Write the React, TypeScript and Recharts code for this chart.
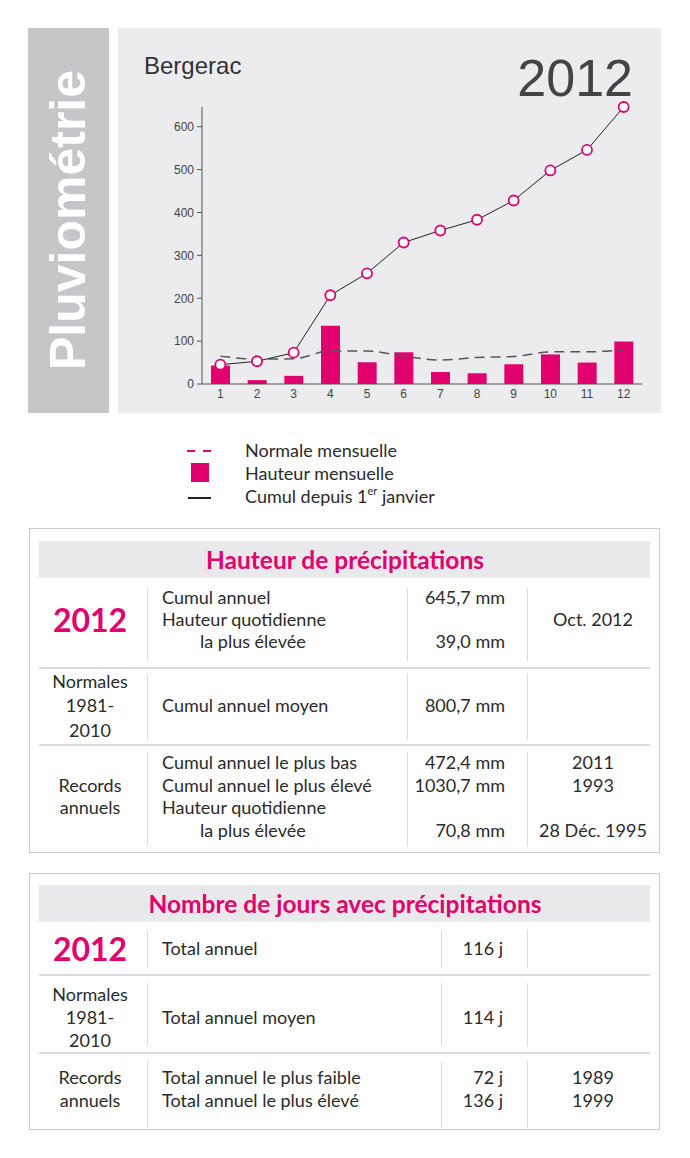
import * as React from "react";
import {
  ComposedChart,
  Bar,
  Line,
  XAxis,
  YAxis,
} from "recharts";

// monthly data, Bergerac 2012
const months = ["1", "2", "3", "4", "5", "6", "7", "8", "9", "10", "11", "12"];
const hauteurMensuelle = [43, 9, 19, 136, 51, 74, 28, 25, 46, 69, 50, 99];
const normaleMensuelle = [65, 58, 59, 77, 77, 65, 56, 62, 64, 75, 75, 80];
const cumulAnnuel = [45, 53, 73, 207, 258, 330, 358, 383, 428, 498, 546, 646];
const yTicks = [0, 100, 200, 300, 400, 500, 600];

const PINK = "#e2006e";
const TXT = "#2b2b2b";
const FONT = "Lato, 'Open Sans', sans-serif";
const HELV = "'Liberation Sans', Arial, sans-serif";

const chartData = months.map((m, i) => ({
  month: m,
  hauteur: hauteurMensuelle[i],
  normale: normaleMensuelle[i],
  cumul: cumulAnnuel[i],
}));

type TProps = {
  x: number;
  y: number;
  align?: "left" | "right" | "center";
  size?: number;
  bold?: boolean;
  color?: string;
  children: React.ReactNode;
};

// text placed by its vertical centre; x is left edge, right edge or centre
function T({ x, y, align = "left", size = 18, bold, color = TXT, children }: TProps) {
  const style: React.CSSProperties = {
    position: "absolute",
    top: y - size,
    height: size * 2,
    lineHeight: `${size * 2}px`,
    fontSize: size,
    fontWeight: bold ? 700 : 400,
    color,
    whiteSpace: "nowrap",
    fontFamily: FONT,
  };
  if (align === "left") style.left = x;
  if (align === "right") style.right = 690 - x;
  if (align === "center") {
    style.left = x - 250;
    style.width = 500;
    style.textAlign = "center";
  }
  return <div style={style}>{children}</div>;
}

function Rect({ x, y, w, h, bg }: { x: number; y: number; w: number; h: number; bg: string }) {
  return <div style={{ position: "absolute", left: x, top: y, width: w, height: h, background: bg }} />;
}

const SEP = "#dcdcdc";

function Table1() {
  return (
    <>
      <div style={{ position: "absolute", left: 29, top: 528, width: 629, height: 323, border: "1px solid #c9c9c9" }} />
      <Rect x={39} y={541} w={611} h={37} bg="#e9e9eb" />
      <T x={345} y={559} align="center" size={24.5} bold color={PINK}>Hauteur de précipitations</T>
      {/* separators */}
      <Rect x={39} y={667} w={611} h={2} bg={SEP} />
      <Rect x={39} y={744} w={611} h={2} bg={SEP} />
      {[147, 407, 527].map((x) => (
        <React.Fragment key={x}>
          <Rect x={x} y={588} w={1} h={73} bg={SEP} />
          <Rect x={x} y={674} w={1} h={66} bg={SEP} />
          <Rect x={x} y={752} w={1} h={94} bg={SEP} />
        </React.Fragment>
      ))}
      <T x={90} y={620} align="center" size={32} bold color={PINK}>2012</T>
      <T x={162} y={597}>Cumul annuel</T>
      <T x={162} y={619}>Hauteur quotidienne</T>
      <T x={200} y={641}>la plus élevée</T>
      <T x={505} y={597} align="right">645,7 mm</T>
      <T x={505} y={641} align="right">39,0 mm</T>
      <T x={593} y={619} align="center">Oct. 2012</T>

      <T x={90} y={681} align="center">Normales</T>
      <T x={90} y={705} align="center">1981-</T>
      <T x={90} y={730} align="center">2010</T>
      <T x={162} y={705}>Cumul annuel moyen</T>
      <T x={505} y={705} align="right">800,7 mm</T>

      <T x={90} y={785} align="center">Records</T>
      <T x={90} y={807} align="center">annuels</T>
      <T x={162} y={762}>Cumul annuel le plus bas</T>
      <T x={162} y={785}>Cumul annuel le plus élevé</T>
      <T x={162} y={807}>Hauteur quotidienne</T>
      <T x={200} y={830}>la plus élevée</T>
      <T x={505} y={762} align="right">472,4 mm</T>
      <T x={505} y={785} align="right">1030,7 mm</T>
      <T x={505} y={830} align="right">70,8 mm</T>
      <T x={593} y={762} align="center">2011</T>
      <T x={593} y={785} align="center">1993</T>
      <T x={593} y={830} align="center">28 Déc. 1995</T>
    </>
  );
}

function Table2() {
  return (
    <>
      <div style={{ position: "absolute", left: 29, top: 873, width: 629, height: 255, border: "1px solid #c9c9c9" }} />
      <Rect x={39} y={885} w={611} h={37} bg="#e9e9eb" />
      <T x={345} y={903} align="center" size={24.5} bold color={PINK}>Nombre de jours avec précipitations</T>
      <Rect x={39} y={974} w={611} h={2} bg={SEP} />
      <Rect x={39} y={1052} w={611} h={2} bg={SEP} />
      {[147, 441, 527].map((x) => (
        <React.Fragment key={x}>
          <Rect x={x} y={930} w={1} h={38} bg={SEP} />
          <Rect x={x} y={983} w={1} h={63} bg={SEP} />
          <Rect x={x} y={1061} w={1} h={67} bg={SEP} />
        </React.Fragment>
      ))}
      <T x={90} y={949} align="center" size={32} bold color={PINK}>2012</T>
      <T x={162} y={948}>Total annuel</T>
      <T x={503} y={948} align="right">116 j</T>

      <T x={90} y={994} align="center">Normales</T>
      <T x={90} y={1017} align="center">1981-</T>
      <T x={90} y={1040} align="center">2010</T>
      <T x={162} y={1017}>Total annuel moyen</T>
      <T x={503} y={1017} align="right">114 j</T>

      <T x={90} y={1077} align="center">Records</T>
      <T x={90} y={1100} align="center">annuels</T>
      <T x={162} y={1077}>Total annuel le plus faible</T>
      <T x={162} y={1100}>Total annuel le plus élevé</T>
      <T x={503} y={1077} align="right">72 j</T>
      <T x={503} y={1100} align="right">136 j</T>
      <T x={593} y={1077} align="center">1989</T>
      <T x={593} y={1100} align="center">1999</T>
    </>
  );
}

const CumulDot = (props: any) => {
  const { cx, cy } = props;
  if (cx == null || cy == null) return null;
  return <circle cx={cx} cy={cy} r={5} fill="#fff" stroke={PINK} strokeWidth={1.8} />;
};

export default function App() {
  return (
    <div style={{ position: "absolute", left: 0, top: 0, width: 690, height: 1158, background: "#fff", overflow: "hidden" }}>
      {/* side band */}
      <Rect x={28} y={28} w={81} h={385} bg="#c6c6c8" />
      <div
        style={{
          position: "absolute",
          left: 68 - 200,
          top: 220 - 30,
          width: 400,
          height: 60,
          lineHeight: "60px",
          textAlign: "center",
          transform: "rotate(-90deg)",
          color: "#fff",
          fontFamily: HELV,
          fontWeight: 700,
          fontSize: 50,
        }}
      >
        Pluviométrie
      </div>

      {/* chart panel */}
      <Rect x={118} y={28} w={543} h={385} bg="#ececee" />
      <div style={{ position: "absolute", left: 144, top: 52, fontFamily: HELV, fontSize: 24, lineHeight: "28px", color: "#333" }}>
        Bergerac
      </div>
      <div style={{ position: "absolute", right: 690 - 633, top: 49, fontFamily: HELV, fontSize: 52, color: "#444", lineHeight: "58px" }}>
        2012
      </div>
      <div style={{ position: "absolute", left: 118, top: 28 }}>
        <ComposedChart
          width={543}
          height={385}
          data={chartData}
          margin={{ top: 79, right: 19, bottom: 0, left: 0 }}
        >
          <XAxis
            dataKey="month"
            height={29}
            tickLine={false}
            tickSize={0}
            tickMargin={5}
            axisLine={{ stroke: "#555", strokeWidth: 1 }}
            tick={{ fill: "#444", fontSize: 12, fontFamily: HELV }}
            interval={0}
          />
          <YAxis
            width={84}
            domain={[0, 646]}
            ticks={yTicks}
            tickSize={5}
            tickMargin={3}
            axisLine={{ stroke: "#555", strokeWidth: 1 }}
            tickLine={{ stroke: "#555" }}
            tick={{ fill: "#444", fontSize: 12, fontFamily: HELV }}
          />
          <Bar dataKey="hauteur" fill={PINK} barSize={19} isAnimationActive={false} />
          <Line
            dataKey="normale"
            type="monotone"
            stroke="#555"
            strokeWidth={1.5}
            strokeDasharray="10 6"
            dot={false}
            activeDot={false}
            isAnimationActive={false}
          />
          <Line
            dataKey="cumul"
            type="linear"
            stroke="#222"
            strokeWidth={1}
            dot={<CumulDot />}
            activeDot={false}
            isAnimationActive={false}
          />
        </ComposedChart>
      </div>

      {/* legend */}
      <Rect x={187} y={450} w={8} h={2} bg={PINK} />
      <Rect x={203} y={450} w={8} h={2} bg={PINK} />
      <Rect x={191} y={463} w={18} h={19} bg={PINK} />
      <Rect x={188} y={497} w={23} h={1.5} bg="#222" />
      <T x={245} y={450} size={18}>Normale mensuelle</T>
      <T x={245} y={473} size={18}>Hauteur mensuelle</T>
      <T x={245} y={496} size={18}>
        Cumul depuis 1<sup style={{ fontSize: 11, lineHeight: 0, position: "relative", top: -1 }}>er</sup> janvier
      </T>

      <Table1 />
      <Table2 />
    </div>
  );
}
